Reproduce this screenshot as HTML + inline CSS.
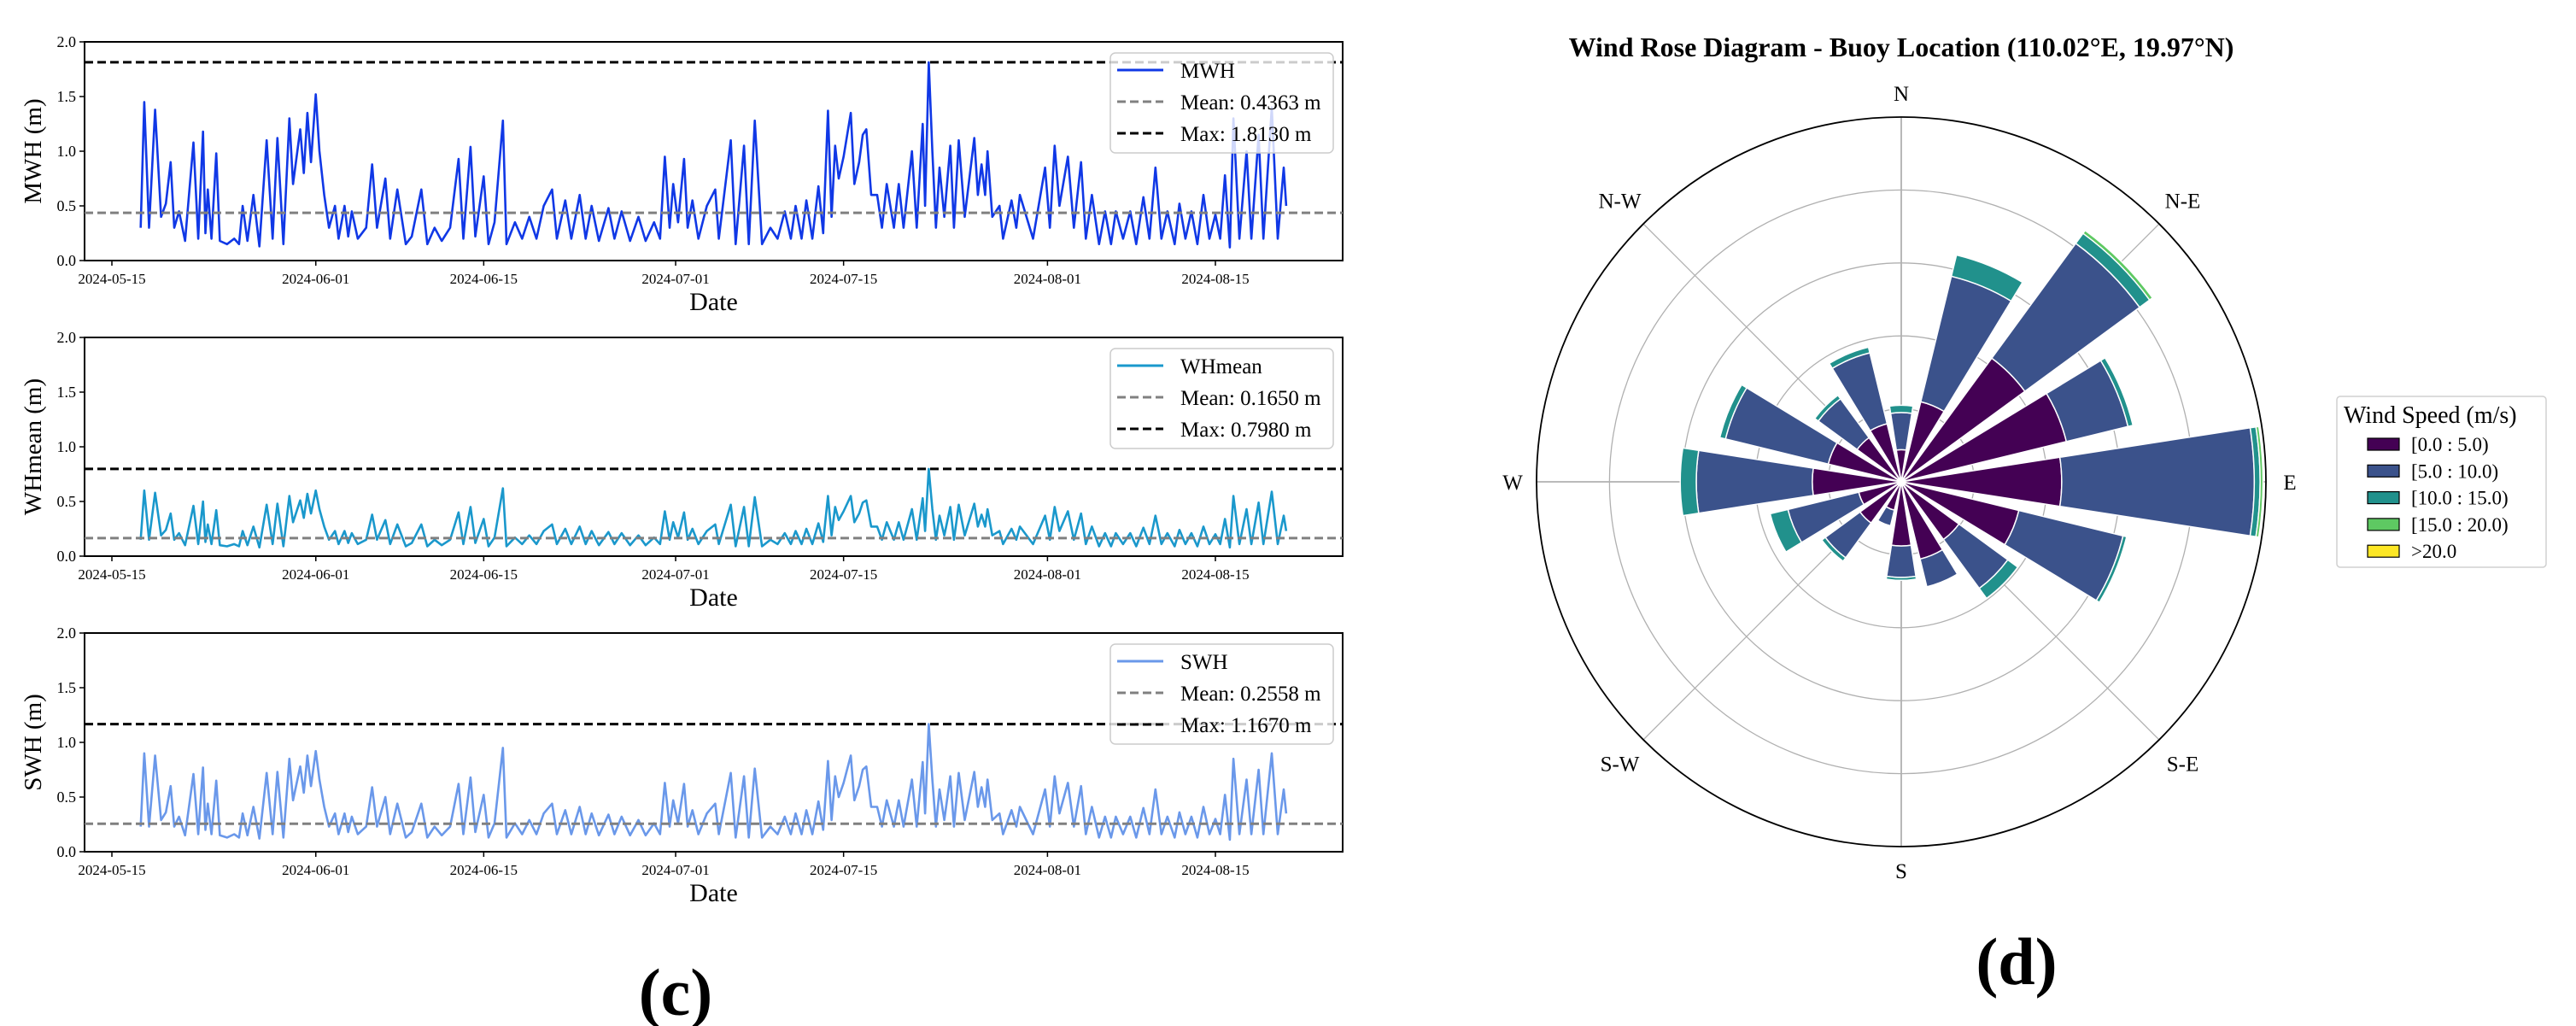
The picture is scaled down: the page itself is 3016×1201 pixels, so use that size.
<!DOCTYPE html>
<html><head><meta charset="utf-8"><style>
html,body{margin:0;padding:0;background:#fff;}
svg{display:block;font-family:"Liberation Serif",serif;}
</style></head><body>
<svg id="fig" width="3016" height="1201" viewBox="0 0 3016 1201" xmlns="http://www.w3.org/2000/svg">
<rect width="3016" height="1201" fill="#fff"/>
<g id="ts"></g>
<g id="rose"></g>
<text x="791" y="1188" font-size="78" font-weight="bold" text-anchor="middle">(c)</text>
<text x="2361" y="1152" font-size="78" font-weight="bold" text-anchor="middle">(d)</text>
</svg>
<script>
// ---- time series data (days since 2024-05-15) ----
const days = [2.4,2.7,3.1,3.6,4.1,4.5,4.9,5.2,5.6,6.1,
6.8,7.2,7.6,7.8,8.0,8.3,8.7,9.0,9.6,10.2,
10.6,10.9,11.3,11.8,12.3,12.9,13.4,13.8,14.3,14.8,
15.1,15.7,16.0,16.3,16.6,17.0,17.3,17.7,18.1,18.6,
18.9,19.4,19.7,20.0,20.5,21.2,21.7,22.1,22.8,23.2,
23.8,24.5,25.0,25.8,26.3,26.9,27.5,28.2,28.9,29.3,
29.9,30.3,31.0,31.4,31.9,32.6,32.9,33.6,34.2,34.8,
35.4,36.0,36.7,37.1,37.8,38.3,39.0,39.5,40.0,40.6,
41.4,41.9,42.5,43.2,43.9,44.5,45.2,45.7,46.1,46.5,
46.8,47.2,47.7,48.0,48.4,48.9,49.6,50.3,50.6,51.6,
52.0,52.7,53.1,53.6,54.2,54.9,55.5,56.1,56.6,57.0,
57.5,57.9,58.4,58.9,59.3,59.7,60.0,60.3,60.6,61.0,
61.6,61.9,62.3,62.6,62.9,63.3,63.8,64.2,64.6,65.2,
65.6,66.0,66.7,67.1,67.6,67.8,68.1,68.4,68.7,69.0,
69.4,69.9,70.2,70.6,71.1,71.9,72.2,72.5,72.8,73.0,
73.4,74.0,74.3,75.0,75.4,75.7,76.8,77.8,78.2,78.6,
79.0,79.7,80.2,80.8,81.2,81.7,82.3,82.8,83.3,83.7,
84.3,84.9,85.4,86.0,86.5,87.0,87.5,88.0,88.6,89.0,
89.5,90.0,90.5,91.0,91.5,92.0,92.4,92.8,93.2,93.5,
94.0,94.6,95.0,95.6,96.0,96.7,97.2,97.7,97.9];
const mwh = [.30,1.45,.30,1.38,.40,.52,.90,.30,.45,.18,
1.08,.20,1.18,.25,.65,.20,.98,.18,.15,.20,
.15,.50,.18,.60,.13,1.10,.20,1.12,.15,1.30,
.70,1.20,.80,1.35,.90,1.52,1.00,.60,.30,.50,
.20,.50,.22,.45,.20,.30,.88,.30,.75,.20,
.65,.15,.22,.65,.15,.30,.18,.30,.93,.20,
1.04,.22,.77,.15,.35,1.28,.15,.35,.20,.40,
.20,.50,.65,.20,.55,.20,.60,.20,.50,.18,
.48,.20,.45,.18,.40,.18,.35,.20,.95,.30,
.70,.35,.93,.30,.55,.20,.50,.65,.20,1.10,
.15,1.05,.15,1.28,.15,.30,.20,.45,.20,.50,
.20,.55,.20,.68,.25,1.37,.40,1.05,.75,.95,
1.35,.70,.90,1.15,1.20,.60,.60,.30,.70,.30,
.70,.30,1.00,.30,1.25,.50,1.813,1.00,.30,.85,
.40,1.05,.30,1.10,.40,1.12,.60,.88,.60,1.00,
.40,.50,.20,.55,.30,.60,.20,.85,.30,1.05,
.50,.95,.30,.90,.20,.60,.15,.45,.15,.45,
.20,.45,.15,.58,.20,.85,.20,.45,.15,.52,
.20,.45,.15,.60,.20,.42,.20,.78,.12,1.30,
.20,1.00,.20,1.15,.20,1.40,.20,.85,.50];
const whmean = [.15,.60,.15,.58,.19,.24,.39,.15,.21,.10,
.46,.11,.50,.13,.29,.11,.42,.10,.09,.11,
.09,.23,.10,.27,.08,.47,.11,.48,.09,.55,
.31,.51,.35,.57,.39,.60,.43,.27,.15,.23,
.11,.23,.12,.21,.11,.15,.38,.15,.33,.11,
.29,.09,.12,.29,.09,.15,.10,.15,.40,.11,
.45,.12,.34,.09,.17,.62,.09,.17,.11,.19,
.11,.23,.29,.11,.25,.11,.27,.11,.23,.10,
.22,.11,.21,.10,.19,.10,.17,.11,.41,.15,
.31,.17,.40,.15,.25,.11,.23,.29,.11,.47,
.09,.45,.09,.54,.09,.15,.11,.21,.11,.23,
.11,.25,.11,.30,.13,.55,.19,.45,.33,.41,
.55,.31,.39,.49,.51,.27,.27,.15,.31,.15,
.31,.15,.43,.15,.53,.23,.798,.43,.15,.37,
.19,.45,.15,.47,.19,.48,.27,.38,.27,.43,
.19,.23,.11,.25,.15,.27,.11,.37,.15,.45,
.23,.41,.15,.39,.11,.27,.09,.21,.09,.21,
.11,.21,.09,.26,.11,.37,.11,.21,.09,.24,
.11,.21,.09,.27,.11,.20,.11,.34,.08,.55,
.11,.43,.11,.49,.11,.59,.11,.37,.23];
const swh = [.23,.90,.23,.88,.29,.36,.60,.23,.32,.15,
.71,.16,.77,.20,.44,.16,.65,.15,.13,.16,
.13,.35,.15,.41,.12,.72,.16,.73,.13,.85,
.47,.78,.54,.88,.60,.92,.66,.41,.23,.35,
.16,.35,.18,.32,.16,.23,.59,.23,.50,.16,
.44,.13,.18,.44,.13,.23,.15,.23,.62,.16,
.68,.18,.52,.13,.26,.95,.13,.26,.16,.29,
.16,.35,.44,.16,.38,.16,.41,.16,.35,.15,
.34,.16,.32,.15,.29,.15,.26,.16,.63,.23,
.47,.26,.62,.23,.38,.16,.35,.44,.16,.72,
.13,.69,.13,.76,.13,.23,.16,.32,.16,.35,
.16,.38,.16,.46,.20,.83,.29,.69,.50,.63,
.88,.47,.60,.75,.78,.41,.41,.23,.47,.23,
.47,.23,.66,.23,.82,.35,1.167,.66,.23,.57,
.29,.69,.23,.72,.29,.73,.41,.59,.41,.66,
.29,.35,.16,.38,.23,.41,.16,.57,.23,.69,
.35,.63,.23,.60,.16,.41,.13,.32,.13,.32,
.16,.32,.13,.40,.16,.57,.16,.32,.13,.36,
.16,.32,.13,.41,.16,.30,.16,.52,.11,.85,
.16,.66,.16,.75,.16,.90,.16,.57,.35];
const seriesNames = ["MWH","WHmean","SWH"];
const meanVals = [0.4363, 0.1650, 0.2558];
const maxVals = [1.8130, 0.7980, 1.1670];
const yTicks = [0, 0.5, 1.0, 1.5, 2.0];
const yTickLabels = ["0.0","0.5","1.0","1.5","2.0"];
const xTickDays = [0, 17, 31, 47, 61, 78, 92];
const xTickLabels = ["2024-05-15","2024-06-01","2024-06-15","2024-07-01","2024-07-15","2024-08-01","2024-08-15"];

// ---- wind rose data ----
const directions = ["N","NNE","NE","ENE","E","ESE","SE","SSE","S","SSW","SW","WSW","W","WNW","NW","NNW"];
const bin0_5   = [.44,1.13,2.1,2.33,2.2,1.66,.98,1.09,.88,.4,.7,.6,1.22,1.03,.75,.82];
const bin5_10  = [.51,1.77,1.95,.87,2.64,1.47,.83,.39,.43,.22,.59,1.0,1.59,1.45,.66,1.0];
const bin10_15 = [.1,.3,.17,.07,.08,.05,.17,0,.04,0,.06,.25,.22,.08,.06,.08];
const bin15_20 = [0,0,.05,0,.04,0,0,0,0,0,0,0,0,0,0,0];
const bin20    = [0,0,0,0,0,0,0,0,0,0,0,0,0,0,0,0];
const binLabels = ["[0.0 : 5.0)","[5.0 : 10.0)","[10.0 : 15.0)","[15.0 : 20.0)",">20.0"];
const compassLabels = ["N","N-E","E","S-E","S","S-W","W","N-W"];

const NS="http://www.w3.org/2000/svg";
function mk(tag, attrs, parent){const e=document.createElementNS(NS,tag);for(const k in attrs)e.setAttribute(k,attrs[k]);parent.appendChild(e);return e;}

// ---- time series panels ----
const ts=document.getElementById('ts');
const X0=99, X1=1572, PX_PER_DAY=(1423-131)/92, DAY0_X=131;
const panels=[{top:49,bot:305,data:mwh,color:"#1038e6",lab:"MWH (m)",leg:"MWH",meanLab:"Mean"},
{top:395,bot:651,data:whmean,color:"#1a98cc",lab:"WHmean (m)",leg:"WHmean",meanLab:"Mean"},
{top:741,bot:997,data:swh,color:"#6a98ea",lab:"SWH (m)",leg:"SWH",meanLab:"Mean"}];
function xs(d){return DAY0_X+d*PX_PER_DAY;}
panels.forEach((p,i)=>{
  const g=mk('g',{},ts);
  
  
  const ys=v=>p.bot-(v/2)*(p.bot-p.top);
  // axis frame
  const fr=mk('rect',{x:X0,y:p.top,width:X1-X0,height:p.bot-p.top,fill:'none',stroke:'#000','stroke-width':2},g);
  
  
  // y ticks
  yTicks.forEach((t,k)=>{
    const y=ys(t);
    mk('line',{x1:X0-6,x2:X0,y1:y,y2:y,stroke:'#000','stroke-width':1.5},g);
    const tl=mk('text',{x:X0-10,y:y+6,'font-size':18,'text-anchor':'end'},g);
    tl.textContent=yTickLabels[k];
    
    
  });
  xTickDays.forEach((d,k)=>{
    const x=xs(d);
    mk('line',{x1:x,x2:x,y1:p.bot,y2:p.bot+6,stroke:'#000','stroke-width':1.5},g);
    const tl=mk('text',{x:x,y:p.bot+27,'font-size':17,'text-anchor':'middle'},g);
    tl.textContent=xTickLabels[k];
    
    
  });
  const xl=mk('text',{x:(X0+X1)/2,y:p.bot+58,'font-size':30,'text-anchor':'middle'},g);
  xl.textContent='Date';
  
  
  const yc=(p.top+p.bot)/2;
  const yl=mk('text',{x:48,y:yc,'font-size':29,'text-anchor':'middle',transform:`rotate(-90 48 ${yc})`},g);
  yl.textContent=p.lab;
  
  
  // series
  const pts=days.map((d,k)=>xs(d).toFixed(1)+','+ys(p.data[k]).toFixed(1)).join(' ');
  const ln=mk('polyline',{points:pts,fill:'none',stroke:p.color,'stroke-width':2.6,'stroke-linejoin':'round'},g);
  
  
  const ml=mk('line',{x1:X0,x2:X1,y1:ys(meanVals[i]),y2:ys(meanVals[i]),stroke:'#808080','stroke-width':3,'stroke-dasharray':'10 5'},g);
  
  
  const xl2=mk('line',{x1:X0,x2:X1,y1:ys(maxVals[i]),y2:ys(maxVals[i]),stroke:'#000','stroke-width':3,'stroke-dasharray':'10 5'},g);
  
  
  // legend
  const ly=p.top+13;
  const lg=mk('g',{},g);
  
  
  mk('rect',{x:1300,y:ly,width:261,height:117,rx:6,fill:'rgba(255,255,255,0.8)',stroke:'#cccccc','stroke-width':1.5},lg);
  const rows=[[p.leg,p.color,'none'],['Mean: '+meanVals[i].toFixed(4)+' m','#808080','10 5'],['Max: '+maxVals[i].toFixed(4)+' m','#000','10 5']];
  rows.forEach((r,k)=>{
    const y=ly+20+k*37;
    mk('line',{x1:1308,x2:1362,y1:y,y2:y,stroke:r[1],'stroke-width':3,'stroke-dasharray':r[2]},lg);
    const t=mk('text',{x:1382,y:y+9,'font-size':25},lg);
    t.textContent=r[0];
    
    
  });
});

// ---- wind rose ----
const rose=document.getElementById('rose');
const CX=2226, CY=564, U=85.4, R=427;
const tt=mk('text',{x:2226,y:66,'font-size':32,'font-weight':'bold','text-anchor':'middle'},rose);
tt.textContent='Wind Rose Diagram - Buoy Location (110.02°E, 19.97°N)';


for(let k=1;k<=4;k++){
  const c=mk('circle',{cx:CX,cy:CY,r:k*U,fill:'none',stroke:'#b0b0b0','stroke-width':1.3},rose);
  
  
}
for(let k=0;k<8;k++){
  const a=k*45*Math.PI/180;
  const l=mk('line',{x1:CX,y1:CY,x2:CX+R*Math.sin(a),y2:CY-R*Math.cos(a),stroke:'#b0b0b0','stroke-width':k%2?1.3:1.8},rose);
  
  
}
const colors=["#440154","#3b528b","#21918c","#5ec962","#fde725"];
const bins=[bin0_5,bin5_10,bin10_15,bin15_20,bin20];
function sector(r0,r1,ac,hw){
  const a0=(ac-hw)*Math.PI/180,a1=(ac+hw)*Math.PI/180;
  const P=(r,a)=>[(CX+r*Math.sin(a)).toFixed(2),(CY-r*Math.cos(a)).toFixed(2)];
  const [x0,y0]=P(r1,a0),[x1,y1]=P(r1,a1),[x2,y2]=P(r0,a1),[x3,y3]=P(r0,a0);
  return `M${x0},${y0} A${r1},${r1} 0 0 1 ${x1},${y1} L${x2},${y2} `+(r0>0?`A${r0},${r0} 0 0 0 ${x3},${y3} `:'')+'Z';
}
directions.forEach((d,i)=>{
  const ac=i*22.5;
  let cum=0;
  bins.forEach((b,j)=>{
    const v=b[i];
    if(v<=0)return;
    const s=mk('path',{d:sector(cum*U,(cum+v)*U,ac,8.8),fill:colors[j],stroke:'#fff','stroke-width':1.5},rose);
    
    
    cum+=v;
  });
});
const oc=mk('circle',{cx:CX,cy:CY,r:R,fill:'none',stroke:'#000','stroke-width':1.8},rose);


compassLabels.forEach((lab,k)=>{
  const a=k*45*Math.PI/180, rr=k%2?466:455;
  const t=mk('text',{x:CX+rr*Math.sin(a),y:CY-rr*Math.cos(a)+9,'font-size':25,'text-anchor':'middle'},rose);
  t.textContent=lab;
  
  
});
const lg=mk('g',{},rose);


mk('rect',{x:2736,y:464,width:245,height:200,rx:4,fill:'#fff',stroke:'#d0d0d0','stroke-width':1.5},lg);
const lt=mk('text',{x:2744,y:495,'font-size':28},lg);
lt.textContent='Wind Speed (m/s)';


binLabels.forEach((lab,j)=>{
  const y=520+j*31.3;
  mk('rect',{x:2772,y:y-7,width:37,height:14,fill:colors[j],stroke:'#000','stroke-width':1.2},lg);
  const t=mk('text',{x:2823,y:y+8,'font-size':23},lg);
  t.textContent=lab;
  
  
});
</script>
</body></html>
